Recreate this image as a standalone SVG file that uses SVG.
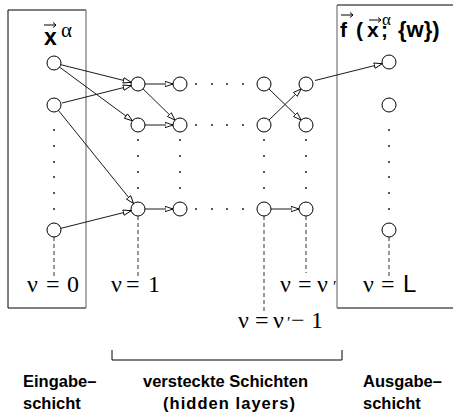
<svg xmlns="http://www.w3.org/2000/svg" width="453" height="412" viewBox="0 0 453 412">
  <style>
    .node { fill: #fff; stroke: #000; stroke-width: 1; }
    .link { fill: none; stroke: #000; stroke-width: 0.9; }
    .drop { fill: none; stroke: #333; stroke-width: 1; stroke-dasharray: 4 3; }
    .dot { fill: #222; }
    .greek { font-family: "Liberation Serif", "Times New Roman", serif; font-size: 24px; fill: #000; }
    .serif { font-family: "Liberation Serif", "Times New Roman", serif; font-weight: normal; }
    .bold { font-family: "Liberation Sans", Arial, sans-serif; font-weight: bold; fill: #000; }
    .caption { font-family: "Liberation Sans", Arial, sans-serif; font-weight: bold; font-size: 16.5px; fill: #000; }
    .vec { fill: none; stroke: #000; stroke-width: 1; }
  </style>
  <defs>
    <marker id="arr" markerUnits="userSpaceOnUse" viewBox="0 0 9 7" refX="8.5" refY="3.5" markerWidth="9" markerHeight="7" orient="auto">
      <path d="M0.5,0.8 L8.5,3.5 L0.5,6.2 Z" fill="#fff" stroke="#000" stroke-width="0.9"/>
    </marker>
    <g id="vecarrow">
      <path class="vec" d="M0,0 H12 M9,-2.5 L12,0 L9,2.5"/>
    </g>
  </defs>

  <!-- layer frames -->
  <g id="input-frame">
    <path d="M86,308 H8 V10 H86" fill="none" stroke="#000" stroke-width="1"/>
    <line x1="86" y1="10" x2="86" y2="308" stroke="#777" stroke-width="1.2"/>
  </g>
  <g id="output-frame">
    <path d="M460,5 H337 M337,308 H460" fill="none" stroke="#000" stroke-width="1"/>
    <line x1="337" y1="5" x2="337" y2="308" stroke="#777" stroke-width="1.2"/>
  </g>

  <!-- connectors -->
  <g id="connectors">
    <line class="link" x1="60.8" y1="64.7" x2="131.2" y2="82.3" marker-end="url(#arr)"/>
    <line class="link" x1="59.6" y1="67.2" x2="132.4" y2="120.8" marker-end="url(#arr)"/>
    <line class="link" x1="62" y1="103" x2="131.2" y2="85.7" marker-end="url(#arr)"/>
    <line class="link" x1="58.4" y1="110.4" x2="133.6" y2="203.6" marker-end="url(#arr)"/>
    <line class="link" x1="61" y1="228.3" x2="131.2" y2="210.7" marker-end="url(#arr)"/>
    <line class="link" x1="145" y1="84" x2="173" y2="84" marker-end="url(#arr)"/>
    <line class="link" x1="143" y1="88.9" x2="175" y2="120.1" marker-end="url(#arr)"/>
    <line class="link" x1="145" y1="125" x2="173" y2="125" marker-end="url(#arr)"/>
    <line class="link" x1="145" y1="209" x2="173" y2="209" marker-end="url(#arr)"/>
    <line class="link" x1="268.9" y1="88.9" x2="301.1" y2="120.1" marker-end="url(#arr)"/>
    <line class="link" x1="268.9" y1="120.1" x2="301.1" y2="88.9" marker-end="url(#arr)"/>
    <line class="link" x1="271" y1="209" x2="299" y2="209" marker-end="url(#arr)"/>
    <line class="link" x1="315" y1="80.5" x2="382.2" y2="63.7" marker-end="url(#arr)"/>
    <!-- layer index drop lines -->
    <line class="drop" x1="54" y1="237" x2="54" y2="276"/>
    <line class="drop" x1="138" y1="216" x2="138" y2="276"/>
    <line class="drop" x1="264" y1="216" x2="264" y2="313"/>
    <line class="drop" x1="306" y1="216" x2="306" y2="273"/>
    <line class="drop" x1="389" y1="237" x2="389" y2="276"/>
  </g>

  <!-- input layer -->
  <g id="in-1"><circle class="node" cx="54" cy="63" r="7"/></g>
  <g id="in-2"><circle class="node" cx="54" cy="105" r="7"/></g>
  <g id="in-n"><circle class="node" cx="54" cy="230" r="7"/></g>

  <!-- hidden layer 1 -->
  <g id="h1-1"><circle class="node" cx="138" cy="84" r="7"/></g>
  <g id="h1-2"><circle class="node" cx="138" cy="125" r="7"/></g>
  <g id="h1-n"><circle class="node" cx="138" cy="209" r="7"/></g>
  <!-- hidden layer 2 -->
  <g id="h2-1"><circle class="node" cx="180" cy="84" r="7"/></g>
  <g id="h2-2"><circle class="node" cx="180" cy="125" r="7"/></g>
  <g id="h2-n"><circle class="node" cx="180" cy="209" r="7"/></g>
  <!-- hidden layer v'-1 -->
  <g id="hp1-1"><circle class="node" cx="264" cy="84" r="7"/></g>
  <g id="hp1-2"><circle class="node" cx="264" cy="125" r="7"/></g>
  <g id="hp1-n"><circle class="node" cx="264" cy="209" r="7"/></g>
  <!-- hidden layer v' -->
  <g id="hp-1"><circle class="node" cx="306" cy="84" r="7"/></g>
  <g id="hp-2"><circle class="node" cx="306" cy="125" r="7"/></g>
  <g id="hp-n"><circle class="node" cx="306" cy="209" r="7"/></g>

  <!-- output layer -->
  <g id="out-1"><circle class="node" cx="389" cy="62" r="7"/></g>
  <g id="out-2"><circle class="node" cx="389" cy="105" r="7"/></g>
  <g id="out-n"><circle class="node" cx="389" cy="230" r="7"/></g>

  <!-- ellipsis dots -->
  <g id="ellipses">
    <circle class="dot" cx="54" cy="130" r="1"/><circle class="dot" cx="54" cy="146" r="1"/>
    <circle class="dot" cx="54" cy="162" r="1"/><circle class="dot" cx="54" cy="177" r="1"/>
    <circle class="dot" cx="54" cy="193" r="1"/><circle class="dot" cx="54" cy="209" r="1"/>
    <circle class="dot" cx="389" cy="130" r="1"/><circle class="dot" cx="389" cy="146" r="1"/>
    <circle class="dot" cx="389" cy="162" r="1"/><circle class="dot" cx="389" cy="177" r="1"/>
    <circle class="dot" cx="389" cy="193" r="1"/><circle class="dot" cx="389" cy="209" r="1"/>
    <circle class="dot" cx="138" cy="140" r="1"/><circle class="dot" cx="138" cy="156" r="1"/>
    <circle class="dot" cx="138" cy="172" r="1"/><circle class="dot" cx="138" cy="188" r="1"/>
    <circle class="dot" cx="180" cy="140" r="1"/><circle class="dot" cx="180" cy="156" r="1"/>
    <circle class="dot" cx="180" cy="172" r="1"/><circle class="dot" cx="180" cy="188" r="1"/>
    <circle class="dot" cx="264" cy="140" r="1"/><circle class="dot" cx="264" cy="156" r="1"/>
    <circle class="dot" cx="264" cy="172" r="1"/><circle class="dot" cx="264" cy="188" r="1"/>
    <circle class="dot" cx="306" cy="140" r="1"/><circle class="dot" cx="306" cy="156" r="1"/>
    <circle class="dot" cx="306" cy="172" r="1"/><circle class="dot" cx="306" cy="188" r="1"/>
    <circle class="dot" cx="196" cy="84" r="1"/><circle class="dot" cx="212" cy="84" r="1"/>
    <circle class="dot" cx="227" cy="84" r="1"/><circle class="dot" cx="243" cy="84" r="1"/>
    <circle class="dot" cx="196" cy="125" r="1"/><circle class="dot" cx="212" cy="125" r="1"/>
    <circle class="dot" cx="227" cy="125" r="1"/><circle class="dot" cx="243" cy="125" r="1"/>
    <circle class="dot" cx="196" cy="209" r="1"/><circle class="dot" cx="212" cy="209" r="1"/>
    <circle class="dot" cx="227" cy="209" r="1"/><circle class="dot" cx="243" cy="209" r="1"/>
  </g>

  <!-- input vector label -->
  <g id="input-label">
    <text class="bold" y="45" font-size="23"><tspan x="44">x</tspan><tspan class="serif" x="61" y="37" font-size="21">α</tspan></text>
    <use href="#vecarrow" x="44" y="25"/>
  </g>

  <!-- network output label -->
  <g id="output-label">
    <text class="bold" y="37" font-size="21"><tspan x="340">f</tspan><tspan x="356">(</tspan><tspan x="367">x</tspan><tspan class="serif" x="382" y="25" font-size="17">α</tspan><tspan x="381" y="37">;</tspan><tspan x="398" font-size="22">{w})</tspan></text>
    <use href="#vecarrow" x="341" y="15"/>
    <use href="#vecarrow" x="369" y="20"/>
  </g>

  <!-- layer indices -->
  <g id="layer-indices">
    <text class="greek" y="292"><tspan x="27">ν</tspan><tspan x="46">=</tspan><tspan x="67">0</tspan></text>
    <text class="greek" y="292"><tspan x="111">ν</tspan><tspan x="126">=</tspan><tspan x="148">1</tspan></text>
    <text class="greek" y="292"><tspan x="280">ν</tspan><tspan x="298">=</tspan><tspan x="317">ν</tspan><tspan x="333" font-size="16">′</tspan></text>
    <text class="greek" y="292"><tspan x="363">ν</tspan><tspan x="381">=</tspan><tspan x="403" font-family="Liberation Sans, Arial, sans-serif">L</tspan></text>
    <text class="greek" y="328"><tspan x="238">ν</tspan><tspan x="255">=</tspan><tspan x="273">ν</tspan><tspan x="287" font-size="16">′</tspan><tspan x="291">−</tspan><tspan x="311">1</tspan></text>
  </g>

  <!-- bracket over the hidden layers -->
  <path id="hidden-bracket" d="M112,350 V360 H342 V350" fill="none" stroke="#000" stroke-width="1"/>

  <!-- layer captions -->
  <g id="captions">
    <text class="caption" x="23" y="387">Eingabe–</text>
    <text class="caption" x="23" y="409">schicht</text>
    <text class="caption" x="143" y="387">versteckte Schichten</text>
    <text class="caption" x="163" y="409" textLength="132" lengthAdjust="spacing">(hidden layers)</text>
    <text class="caption" x="363" y="387">Ausgabe–</text>
    <text class="caption" x="363" y="409">schicht</text>
  </g>
</svg>
